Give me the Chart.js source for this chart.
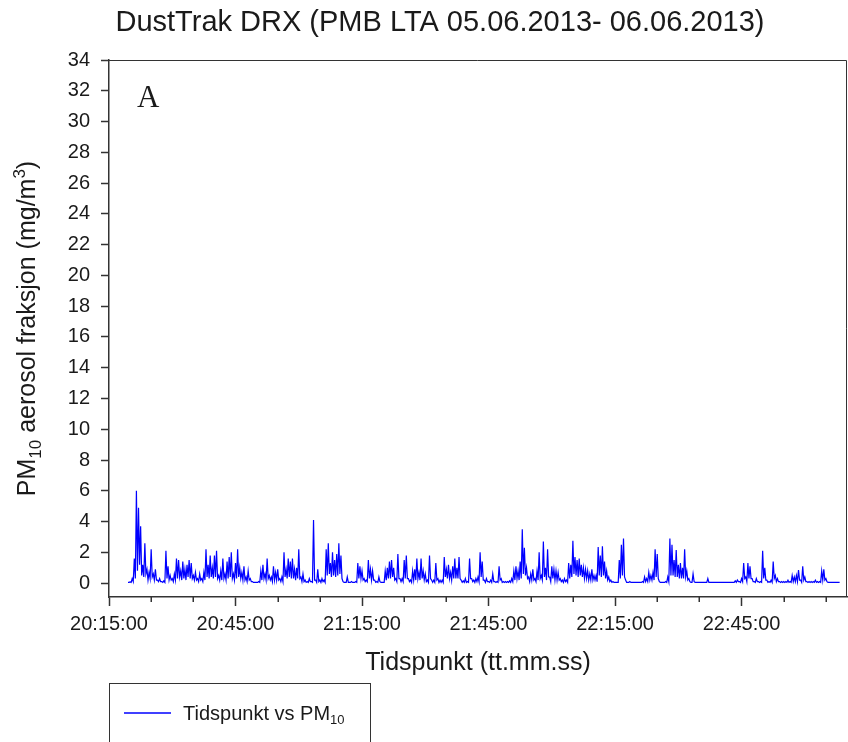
<!DOCTYPE html>
<html>
<head>
<meta charset="utf-8">
<script src="https://cdn.jsdelivr.net/npm/chart.js@4"></script>
<style>
  body { margin: 0; background: #fff; }
  canvas { display: block; }
</style>
</head>
<body>
<canvas id="myChart" width="848" height="742"></canvas>
<script>
// PM10 readings every 15 s, minutes after 20:15:00.
// readingsOnHalfMinute: readings at :00/:30, readingsBetween: the reading 15 s later
const startMinute = 4.5;
const stepMinutes = 0.5;
const readingsOnHalfMinute = [
  0.05, 0.08, 0.3, 1.6, 6.0, 4.9, 3.7, 1.2, 2.6, 0.9,
  0.7, 2.2, 0.6, 0.9, 0.2, 0.3, 0.1, 0.15, 2.1, 1.1,
  0.5, 0.3, 0.6, 1.6, 1.5, 0.8, 1.4, 0.9, 1.2, 1.5,
  1.3, 0.5, 0.7, 0.3, 0.6, 0.3, 0.7, 2.2, 1.2, 1.8,
  1.0, 1.8, 2.1, 0.5, 0.8, 1.6, 0.6, 1.4, 1.7, 2.0,
  0.6, 1.3, 2.2, 1.0, 0.7, 1.1, 0.4, 0.8, 0.3, 0.1,
  0.05, 0.05, 0.1, 0.8, 1.2, 0.6, 1.6, 0.5, 0.4, 1.1,
  0.7, 0.9, 0.3, 0.4, 2.0, 0.9, 1.6, 1.4, 1.6, 0.9,
  1.0, 2.2, 0.4, 0.6, 0.2, 0.1, 0.3, 0.1, 4.1, 0.2,
  0.9, 0.2, 0.3, 0.2, 2.2, 2.6, 1.3, 2.0, 1.5, 1.9,
  2.6, 1.8, 0.1, 0.05, 0.4, 0.05, 0.1, 0.05, 0.1, 1.3,
  1.1, 0.8, 0.3, 0.2, 1.5, 0.9, 0.8, 0.2, 0.1, 0.4,
  0.05, 0.05, 0.8, 1.0, 1.4, 1.5, 1.0, 0.3, 1.9, 0.3,
  0.3, 1.5, 1.8, 0.3, 0.2, 0.8, 0.9, 1.6, 0.7, 1.6,
  0.8, 0.6, 0.2, 1.8, 0.2, 0.2, 1.3, 0.3, 0.2, 0.2,
  1.7, 0.9, 1.2, 0.7, 1.1, 1.6, 1.0, 1.7, 0.2, 0.15,
  0.3, 0.1, 1.6, 0.3, 0.2, 0.3, 0.4, 2.0, 1.4, 0.2,
  0.3, 0.1, 0.2, 0.6, 0.1, 0.1, 1.1, 0.3, 0.1, 0.1,
  0.1, 0.15, 0.3, 0.8, 1.1, 0.8, 1.4, 3.5, 2.3, 1.0,
  0.4, 0.6, 0.9, 0.3, 0.8, 2.0, 0.5, 2.7, 1.0, 2.2,
  0.4, 1.1, 0.9, 0.8, 0.7, 0.3, 0.2, 0.3, 0.2, 1.3,
  1.2, 2.75, 1.7, 1.5, 1.6, 1.2, 1.0, 0.9, 0.8, 0.6,
  0.9, 0.5, 0.5, 2.35, 1.8, 2.4, 1.4, 0.8, 0.4, 0.2,
  0.1, 0.05, 0.05, 1.5, 2.5, 2.9, 0.2, 0.05, 0.1, 0.05,
  0.05, 0.05, 0.05, 0.05, 0.1, 0.4, 0.3, 0.7, 0.5, 0.7,
  2.2, 1.9, 0.1, 0.05, 0.05, 0.1, 0.4, 2.9, 2.5, 1.5,
  2.15, 1.2, 1.3, 1.0, 2.2, 0.8, 0.3, 0.05, 0.6, 0.05,
  0.05, 0.05, 0.05, 0.05, 0.05, 0.3, 0.05, 0.05, 0.05, 0.05,
  0.05, 0.05, 0.05, 0.05, 0.05, 0.05, 0.05, 0.05, 0.15, 0.2,
  0.1, 0.3, 1.3, 0.4, 1.3, 1.1, 0.3, 0.1, 0.3, 0.1,
  0.1, 2.1, 1.0, 0.2, 0.1, 0.2, 1.4, 0.5, 0.3, 0.1,
  0.1, 0.1, 0.1, 0.2, 0.1, 0.5, 0.4, 0.5, 0.85, 0.2,
  1.1, 0.4, 0.1, 0.1, 0.1, 0.1, 0.2, 0.1, 0.1, 0.8,
  0.9, 0.3, 0.05, 0.05, 0.05, 0.05, 0.05, 0.05
];
const readingsBetween = [
  0.05, 0.05, 0.1, 0.3, 0.8, 1.2, 0.5, 0.4, 0.6, 0.2,
  0.3, 0.4, 0.2, 0.2, 0.1, 0.1, 0.05, 0.05, 0.3, 0.2,
  0.2, 0.1, 0.2, 0.3, 0.4, 0.2, 0.3, 0.2, 0.4, 0.3,
  0.3, 0.2, 0.2, 0.1, 0.2, 0.1, 0.2, 0.4, 0.3, 0.4,
  0.3, 0.4, 0.3, 0.2, 0.2, 0.3, 0.2, 0.3, 0.4, 0.3,
  0.2, 0.3, 0.4, 0.3, 0.2, 0.2, 0.1, 0.2, 0.1, 0.05,
  0.05, 0.05, 0.05, 0.2, 0.3, 0.2, 0.3, 0.2, 0.1, 0.2,
  0.2, 0.2, 0.1, 0.1, 0.4, 0.3, 0.4, 0.3, 0.3, 0.2,
  0.3, 0.3, 0.1, 0.1, 0.05, 0.05, 0.1, 0.05, 0.2, 0.05,
  0.1, 0.05, 0.1, 0.05, 0.5, 0.6, 0.4, 0.5, 0.4, 0.5,
  0.6, 0.3, 0.05, 0.05, 0.05, 0.05, 0.05, 0.05, 0.05, 0.3,
  0.3, 0.2, 0.1, 0.1, 0.3, 0.2, 0.2, 0.05, 0.05, 0.1,
  0.05, 0.05, 0.2, 0.3, 0.3, 0.4, 0.2, 0.1, 0.3, 0.1,
  0.1, 0.3, 0.3, 0.1, 0.05, 0.2, 0.2, 0.3, 0.2, 0.3,
  0.2, 0.1, 0.05, 0.3, 0.05, 0.05, 0.2, 0.05, 0.05, 0.05,
  0.4, 0.3, 0.3, 0.2, 0.3, 0.3, 0.3, 0.3, 0.05, 0.05,
  0.05, 0.05, 0.3, 0.1, 0.05, 0.1, 0.1, 0.4, 0.2, 0.05,
  0.1, 0.05, 0.05, 0.1, 0.05, 0.05, 0.2, 0.05, 0.05, 0.05,
  0.05, 0.05, 0.1, 0.2, 0.3, 0.2, 0.3, 0.6, 0.5, 0.3,
  0.1, 0.2, 0.2, 0.1, 0.2, 0.3, 0.2, 0.4, 0.2, 0.4,
  0.1, 0.3, 0.2, 0.2, 0.2, 0.1, 0.05, 0.1, 0.05, 0.3,
  0.4, 0.6, 0.5, 0.4, 0.5, 0.4, 0.3, 0.3, 0.2, 0.2,
  0.2, 0.2, 0.1, 0.5, 0.4, 0.5, 0.3, 0.2, 0.1, 0.05,
  0.05, 0.05, 0.05, 0.3, 0.5, 0.4, 0.05, 0.05, 0.05, 0.05,
  0.05, 0.05, 0.05, 0.05, 0.05, 0.1, 0.1, 0.2, 0.2, 0.2,
  0.4, 0.3, 0.05, 0.05, 0.05, 0.05, 0.1, 0.5, 0.5, 0.4,
  0.4, 0.3, 0.3, 0.3, 0.4, 0.2, 0.1, 0.05, 0.1, 0.05,
  0.05, 0.05, 0.05, 0.05, 0.05, 0.05, 0.05, 0.05, 0.05, 0.05,
  0.05, 0.05, 0.05, 0.05, 0.05, 0.05, 0.05, 0.05, 0.05, 0.1,
  0.05, 0.1, 0.3, 0.1, 0.3, 0.3, 0.1, 0.05, 0.1, 0.05,
  0.05, 0.3, 0.2, 0.05, 0.05, 0.05, 0.3, 0.1, 0.1, 0.05,
  0.05, 0.05, 0.05, 0.05, 0.05, 0.1, 0.1, 0.1, 0.2, 0.05,
  0.2, 0.1, 0.05, 0.05, 0.05, 0.05, 0.05, 0.05, 0.05, 0.2,
  0.2, 0.1, 0.05, 0.05, 0.05, 0.05, 0.05, 0.05
];

// axis ticks (x in minutes after 20:15:00)
const xMajorTicks = [0, 30, 60, 90, 120, 150];
const xMajorLabels = ['20:15:00', '20:45:00', '21:15:00', '21:45:00', '22:15:00', '22:45:00'];
const xMinorTicks = [10, 20, 40, 50, 70, 80, 100, 110, 130, 140, 160, 170];
const yTicks = [0, 2, 4, 6, 8, 10, 12, 14, 16, 18, 20, 22, 24, 26, 28, 30, 32, 34];

const SANS = '"Liberation Sans", Arial, sans-serif';
const INK = '#1a1a1a';

function richText(ctx, parts, x, y, align) {
  let w = 0;
  parts.forEach(p => {
    ctx.font = p.size + 'px ' + SANS;
    p.w = ctx.measureText(p.t).width;
    w += p.w;
  });
  let cx = align === 'center' ? x - w / 2 : x;
  ctx.textAlign = 'left';
  ctx.textBaseline = 'alphabetic';
  parts.forEach(p => {
    ctx.font = p.size + 'px ' + SANS;
    ctx.fillText(p.t, cx, y + (p.dy || 0));
    cx += p.w;
  });
}

const decorations = {
  id: 'decorations',
  afterDraw(chart) {
    const ctx = chart.ctx;
    const a = chart.chartArea;
    const xs = chart.scales.x;
    ctx.save();

    // frame top and right
    ctx.strokeStyle = '#333';
    ctx.lineWidth = 1;
    ctx.beginPath();
    ctx.moveTo(a.left, a.top + 0.5);
    ctx.lineTo(a.right - 0.5, a.top + 0.5);
    ctx.lineTo(a.right - 0.5, a.bottom);
    ctx.stroke();

    // minor ticks on x
    ctx.lineWidth = 1.5;
    ctx.beginPath();
    xMinorTicks.forEach(m => {
      const px = Math.round(xs.getPixelForValue(m)) + 0.25;
      ctx.moveTo(px, a.bottom);
      ctx.lineTo(px, a.bottom + 5);
    });
    ctx.stroke();

    ctx.fillStyle = INK;
    // title
    richText(ctx, [{ t: 'DustTrak DRX (PMB LTA 05.06.2013- 06.06.2013)', size: 29 }], 440, 31, 'center');

    // panel letter
    ctx.font = '31px "Liberation Serif", "Times New Roman", serif';
    ctx.textAlign = 'left';
    ctx.textBaseline = 'alphabetic';
    ctx.fillText('A', 137, 107);

    // x title
    richText(ctx, [{ t: 'Tidspunkt (tt.mm.ss)', size: 25 }], (a.left + a.right) / 2, 670, 'center');

    // y title
    ctx.save();
    ctx.translate(35, (a.top + a.bottom) / 2);
    ctx.rotate(-Math.PI / 2);
    richText(ctx, [
      { t: 'PM', size: 25 },
      { t: '10', size: 17, dy: 6 },
      { t: ' aerosol fraksjon (mg/m', size: 25 },
      { t: '3', size: 17, dy: -10 },
      { t: ')', size: 25 }
    ], 0, 0, 'center');
    ctx.restore();

    // legend
    ctx.strokeStyle = '#333';
    ctx.lineWidth = 1;
    ctx.strokeRect(109.5, 683.5, 261, 70);
    ctx.strokeStyle = '#0000ff';
    ctx.lineWidth = 1.5;
    ctx.beginPath();
    ctx.moveTo(124, 713);
    ctx.lineTo(171, 713);
    ctx.stroke();
    richText(ctx, [
      { t: 'Tidspunkt vs PM', size: 20 },
      { t: '10', size: 13, dy: 4 }
    ], 183, 720, 'left');

    ctx.restore();
  }
};

const ctx = document.getElementById('myChart').getContext('2d');
const points = [];
readingsOnHalfMinute.forEach((v, i) => {
  const t = startMinute + i * stepMinutes;
  points.push({ x: t, y: v });
  points.push({ x: t + stepMinutes / 2, y: readingsBetween[i] });
});

const myChart = new Chart(ctx, {
  type: 'line',
  data: {
    datasets: [{
      label: 'Tidspunkt vs PM10',
      data: points,
      borderColor: '#0000ff',
      borderWidth: 1.2,
      pointRadius: 0,
      tension: 0,
      fill: false
    }]
  },
  options: {
    responsive: false,
    animation: false,
    layout: { padding: { top: 60, right: 1, left: 0, bottom: 0 } },
    plugins: {
      legend: { display: false },
      title: { display: false },
      tooltip: { enabled: false }
    },
    scales: {
      x: {
        type: 'linear',
        min: 0,
        max: 175,
        afterBuildTicks: s => { s.ticks = xMajorTicks.map(v => ({ value: v })); },
        afterFit: s => { s.height = 145; },
        grid: { drawOnChartArea: false, tickLength: 9, tickColor: '#333', tickWidth: 1.5 },
        border: { color: '#333', width: 1.5 },
        ticks: {
          color: INK,
          padding: 6,
          maxRotation: 0,
          font: { family: SANS, size: 20 },
          callback: v => xMajorLabels[xMajorTicks.indexOf(v)]
        }
      },
      y: {
        min: -0.9,
        max: 34,
        afterBuildTicks: s => { s.ticks = yTicks.map(v => ({ value: v })); },
        afterFit: s => { s.width = 109; },
        grid: { drawOnChartArea: false, tickLength: 8, tickColor: '#333', tickWidth: 1.5 },
        border: { color: '#333', width: 1.5 },
        ticks: {
          color: INK,
          padding: 11,
          font: { family: SANS, size: 20 }
        }
      }
    }
  },
  plugins: [decorations]
});
</script>
</body>
</html>
